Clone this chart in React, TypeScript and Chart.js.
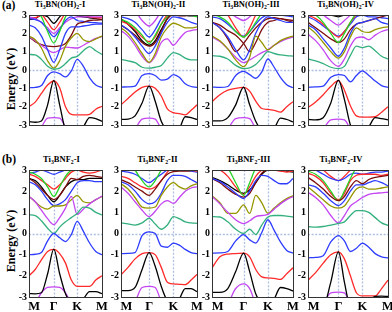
import React, { useEffect, useRef } from "react";
import { Chart, registerables } from "chart.js";
Chart.register(...registerables);

// ---- data ----
// k-path sample positions (M=0, Γ=1, K=2, M=3)
const kSamples = [0, 0.25, 0.5, 0.75, 1, 1.25, 1.5, 1.75, 2, 2.25, 2.5, 2.75, 3];
const kLabels = ["M", "Γ", "K", "M"];
const energyTicks = [-3, -2, -1, 0, 1, 2, 3];
const phases = ["I", "II", "III", "IV"];

// Ti3BN(OH)2-I
const ohI = [
  [-2.82, -2.85, -2.78, -1.9, -0.57, -1.9, -3.3, -3.6, -3.5, -3.1, -2.6, -2.65, -2.8],
  [-3.6, -3.5, -3.1, -2.63, -2.6, -2.63, -3.1, -3.5, -3.6, -3.6, -3.6, -3.6, -3.6],
  [-2.0, -1.75, -1.28, -0.82, -0.6, -0.97, -2.0, -2.42, -2.45, -2.45, -2.42, -2.14, -1.98],
  [-0.97, -0.95, -0.85, -0.3, -0.1, -0.2, -0.38, -0.05, 0.58, 0.2, -0.43, -0.82, -0.95],
  [0.85, 0.82, 0.58, 0.2, 0.04, 0.1, 0.35, 0.65, 0.74, 1.05, 1.28, 1.05, 0.85],
  [1.85, 1.65, 1.2, 0.5, 0.1, 0.5, 1.3, 1.75, 2.0, 1.65, 1.55, 1.7, 1.85],
  [2.45, 2.3, 1.85, 1.1, 0.42, 1.1, 2.0, 2.35, 2.35, 2.4, 2.45, 2.5, 2.5],
  [1.82, 1.6, 1.35, 1.1, 0.95, 1.1, 1.25, 1.22, 1.2, 1.35, 1.55, 1.72, 1.82],
  [1.8, 1.55, 1.38, 1.3, 1.28, 1.32, 1.45, 1.9, 2.5, 2.6, 2.7, 2.72, 2.75],
  [3.3, 3.2, 2.9, 2.1, 1.47, 2.1, 2.9, 3.3, 3.4, 3.4, 3.4, 3.4, 3.3],
  [2.8, 2.75, 2.6, 2.2, 1.82, 2.2, 2.7, 2.9, 2.7, 2.65, 2.6, 2.58, 2.55],
  [2.9, 2.8, 2.6, 2.3, 2.0, 2.3, 2.6, 2.8, 2.9, 2.9, 2.9, 2.9, 2.9],
  [2.85, 2.85, 3.0, 2.6, 2.2, 2.6, 3.1, 3.3, 3.2, 3.0, 2.9, 2.85, 2.85],
  [2.75, 2.8, 3.0, 2.9, 2.55, 2.9, 3.2, 3.3, 2.95, 2.9, 2.85, 2.8, 2.75],
  [3.5, 3.4, 3.3, 3.1, 2.98, 3.1, 3.3, 3.4, 3.5, 3.5, 3.5, 3.5, 3.5],
];
const ohIColors = ["k", "v", "r", "b", "t", "o", "b", "v", "m", "g", "b", "v", "r", "k", "p"];

// Ti3BN(OH)2-II
const ohII = [
  [-2.7, -2.68, -2.5, -1.8, -0.88, -1.7, -2.8, -3.3, -3.5, -3.2, -2.55, -2.6, -2.7],
  [-3.6, -3.5, -3.2, -2.68, -2.62, -2.68, -3.2, -3.5, -3.6, -3.6, -3.6, -3.6, -3.6],
  [-1.9, -1.55, -1.2, -0.95, -0.88, -1.0, -1.42, -2.12, -2.33, -2.38, -2.45, -2.2, -1.9],
  [-0.93, -0.92, -0.88, -0.3, -0.2, -0.3, -0.55, -0.5, -0.25, -0.4, -0.75, -0.9, -0.95],
  [0.58, 0.5, 0.4, 0.15, 0.1, 0.15, 0.25, 0.65, 0.95, 0.85, 0.65, 0.55, 0.55],
  [2.3, 2.0, 1.5, 0.9, 0.42, 0.9, 1.8, 2.3, 2.55, 2.45, 2.3, 2.3, 2.35],
  [2.15, 1.85, 1.35, 0.75, 0.4, 0.75, 1.5, 1.7, 1.35, 1.7, 2.05, 2.15, 2.2],
  [2.45, 2.2, 1.8, 1.3, 0.9, 1.3, 2.0, 2.6, 2.9, 2.85, 2.75, 2.6, 2.5],
  [2.45, 2.2, 1.9, 1.5, 1.3, 1.5, 2.1, 2.8, 3.0, 2.95, 2.95, 3.0, 3.0],
  [2.75, 2.6, 2.3, 1.9, 1.45, 1.9, 2.5, 2.9, 3.2, 3.3, 3.2, 3.0, 2.9],
  [2.65, 2.5, 2.2, 1.8, 1.55, 1.8, 2.5, 3.0, 3.2, 3.1, 3.0, 3.0, 3.0],
  [2.8, 2.5, 2.1, 1.6, 1.35, 1.6, 2.2, 2.8, 3.1, 3.1, 3.0, 2.95, 2.95],
  [2.9, 2.8, 2.6, 2.2, 1.8, 2.2, 2.8, 3.2, 3.3, 3.3, 3.3, 3.2, 3.1],
  [3.5, 3.4, 3.2, 2.7, 2.4, 2.7, 3.2, 3.5, 3.6, 3.6, 3.6, 3.6, 3.6],
];
const ohIIColors = ["k", "v", "r", "b", "t", "o", "v", "b", "m", "g", "r", "k", "b", "v"];

// Ti3BN(OH)2-III
const ohIII = [
  [-2.78, -2.78, -2.6, -1.9, -0.94, -1.9, -2.8, -3.3, -3.5, -3.2, -2.62, -2.7, -2.83],
  [-3.6, -3.5, -3.2, -2.65, -2.6, -2.65, -3.2, -3.5, -3.6, -3.6, -3.6, -3.6, -3.6],
  [-1.73, -1.35, -1.1, -1.0, -0.95, -1.15, -1.7, -2.1, -2.15, -2.2, -2.3, -2.0, -1.73],
  [-0.93, -0.95, -0.9, -0.3, -0.08, -0.25, -0.45, -0.1, 0.6, 0.15, -0.4, -0.8, -0.96],
  [0.78, 0.75, 0.6, 0.25, 0.08, 0.12, 0.3, 0.65, 1.0, 0.9, 0.82, 0.78, 0.76],
  [1.85, 1.6, 1.15, 0.55, 0.18, 0.7, 1.85, 1.5, 1.1, 1.35, 1.6, 1.75, 1.85],
  [1.8, 1.55, 1.15, 0.7, 0.4, 0.55, 0.75, 0.95, 1.1, 1.35, 1.55, 1.7, 1.8],
  [2.6, 2.3, 1.8, 1.1, 0.55, 1.1, 2.0, 2.6, 2.9, 2.8, 2.7, 2.6, 2.6],
  [2.6, 2.3, 1.7, 1.0, 1.45, 1.9, 2.3, 2.6, 2.8, 2.85, 2.8, 2.75, 2.7],
  [2.6, 2.45, 2.15, 1.9, 1.45, 1.0, 1.5, 2.2, 2.6, 2.7, 2.8, 2.7, 2.6],
  [3.0, 2.9, 2.6, 2.1, 1.8, 2.1, 2.6, 3.1, 3.4, 3.4, 3.4, 3.3, 3.2],
  [3.5, 3.4, 3.0, 2.3, 1.8, 2.3, 3.0, 3.5, 3.6, 3.6, 3.6, 3.6, 3.6],
  [2.9, 2.8, 2.5, 2.1, 1.85, 2.1, 2.5, 2.85, 3.0, 3.0, 3.0, 2.95, 2.9],
  [3.5, 3.4, 3.2, 2.9, 2.7, 2.9, 3.2, 3.4, 3.5, 3.5, 3.5, 3.5, 3.5],
];
const ohIIIColors = ["k", "v", "r", "b", "t", "o", "v", "b", "m", "m", "g", "r", "b", "v"];

// Ti3BN(OH)2-IV
const ohIV = [
  [-2.7, -2.72, -2.6, -1.8, -0.55, -1.6, -3.0, -3.5, -3.5, -3.1, -2.6, -2.65, -2.72],
  [-3.6, -3.5, -3.2, -2.72, -2.68, -2.72, -3.2, -3.5, -3.6, -3.6, -3.6, -3.6, -3.6],
  [-2.05, -1.75, -1.35, -0.9, -0.58, -1.1, -1.95, -2.5, -2.57, -2.57, -2.55, -2.3, -2.0],
  [-0.95, -0.92, -0.88, -0.4, -0.25, -0.3, -0.65, -0.3, -0.05, -0.3, -0.6, -0.85, -0.95],
  [0.6, 0.5, 0.35, 0.15, 0.08, 0.2, 0.8, 1.3, 1.22, 1.3, 1.05, 0.75, 0.6],
  [1.95, 1.6, 1.1, 0.5, 0.2, 0.6, 1.3, 1.75, 1.8, 1.65, 1.9, 2.1, 2.2],
  [2.35, 2.0, 1.5, 1.0, 0.65, 1.0, 1.8, 2.3, 2.1, 2.05, 2.2, 2.3, 2.35],
  [2.45, 2.2, 1.7, 1.2, 0.75, 1.2, 2.0, 2.5, 2.6, 2.7, 2.8, 2.6, 2.5],
  [3.2, 3.0, 2.6, 2.0, 1.5, 2.0, 2.6, 3.1, 3.3, 3.3, 3.3, 3.3, 3.2],
  [2.6, 2.3, 2.0, 1.7, 1.5, 1.7, 2.2, 2.5, 2.6, 2.7, 2.8, 2.9, 3.0],
  [3.0, 2.8, 2.5, 2.1, 1.8, 2.1, 2.6, 3.0, 3.2, 3.2, 3.1, 3.0, 3.0],
  [2.9, 2.7, 2.4, 2.1, 1.85, 2.1, 2.5, 2.9, 3.0, 2.9, 2.9, 2.85, 2.8],
  [3.5, 3.3, 3.0, 2.7, 2.45, 2.7, 3.0, 3.3, 3.5, 3.5, 3.5, 3.5, 3.5],
  [3.3, 3.2, 3.1, 3.0, 2.9, 3.0, 3.1, 3.2, 3.3, 3.3, 3.3, 3.3, 3.3],
];
const ohIVColors = ["k", "v", "r", "b", "t", "v", "o", "b", "g", "m", "r", "b", "v", "k"];

// Ti3BNF2-I
const fI = [
  [-2.84, -2.85, -2.8, -1.9, -0.74, -1.9, -2.85, -3.3, -3.5, -3.1, -2.75, -2.75, -2.84],
  [-3.6, -3.3, -2.8, -2.55, -2.52, -2.55, -2.8, -3.3, -3.6, -3.6, -3.6, -3.6, -3.6],
  [-2.0, -1.7, -1.25, -0.85, -0.75, -0.95, -1.4, -2.2, -2.5, -2.5, -2.5, -2.2, -2.0],
  [-1.0, -0.98, -0.9, -0.35, 0.0, -0.2, -0.38, -0.05, 0.57, 0.1, -0.45, -0.85, -1.0],
  [0.88, 0.85, 0.6, 0.25, 0.0, 0.3, 0.55, 0.75, 0.95, 1.25, 1.2, 1.0, 0.88],
  [1.75, 1.5, 1.1, 0.7, 0.42, 0.75, 1.2, 1.75, 0.9, 1.15, 1.4, 1.6, 1.77],
  [1.75, 1.5, 1.25, 1.15, 1.3, 1.3, 1.35, 1.6, 1.8, 1.5, 1.45, 1.6, 1.75],
  [2.45, 2.3, 2.0, 1.6, 1.32, 1.4, 1.6, 2.0, 2.4, 2.5, 2.5, 2.45, 2.45],
  [2.6, 2.4, 2.1, 1.8, 1.6, 1.8, 2.2, 2.6, 2.55, 2.7, 2.75, 2.7, 2.65],
  [2.9, 2.8, 2.6, 2.2, 1.75, 2.2, 2.7, 3.0, 3.1, 3.2, 3.2, 3.1, 3.0],
  [2.8, 2.7, 2.5, 2.3, 2.1, 2.3, 2.6, 2.9, 3.0, 2.9, 2.85, 2.9, 3.0],
  [2.6, 2.5, 2.2, 1.8, 1.5, 1.8, 2.2, 2.45, 2.55, 2.55, 2.6, 2.6, 2.6],
  [2.85, 2.9, 3.0, 2.9, 2.8, 2.9, 3.0, 3.1, 3.2, 3.2, 3.2, 3.1, 3.0],
];
const fIColors = ["k", "v", "r", "b", "t", "v", "o", "b", "m", "g", "r", "k", "b"];

// Ti3BNF2-II
const fII = [
  [-2.7, -2.7, -2.55, -1.7, -0.9, -1.55, -2.5, -3.2, -3.5, -3.1, -2.6, -2.6, -2.75],
  [-3.6, -3.5, -3.2, -2.55, -2.5, -2.55, -3.2, -3.5, -3.6, -3.6, -3.6, -3.6, -3.6],
  [-1.95, -1.6, -1.2, -0.95, -0.9, -1.0, -1.6, -2.3, -2.38, -2.4, -2.42, -2.2, -1.93],
  [-0.95, -0.94, -0.9, -0.1, 0.08, 0.0, -0.6, -0.65, -0.45, -0.55, -0.75, -0.9, -0.95],
  [0.5, 0.45, 0.4, 0.5, 0.72, 0.45, 0.2, 0.4, 0.8, 0.7, 0.55, 0.5, 0.48],
  [2.2, 1.9, 1.5, 1.1, 0.8, 1.05, 1.4, 1.55, 1.42, 1.7, 2.0, 2.15, 2.2],
  [2.35, 2.1, 1.7, 1.25, 1.2, 1.25, 1.8, 2.2, 2.4, 2.2, 2.1, 2.25, 2.35],
  [2.45, 2.3, 2.0, 1.6, 1.4, 1.5, 1.9, 2.5, 2.75, 2.75, 2.7, 2.55, 2.4],
  [2.55, 2.4, 2.2, 2.0, 1.8, 2.1, 2.5, 2.8, 2.92, 2.95, 2.95, 2.97, 3.0],
  [3.5, 3.4, 3.0, 2.5, 2.2, 2.5, 3.0, 3.4, 3.6, 3.6, 3.6, 3.6, 3.6],
  [2.7, 2.6, 2.4, 2.2, 2.1, 2.2, 2.5, 2.9, 3.1, 3.1, 3.1, 3.0, 2.95],
  [2.95, 2.9, 2.8, 2.6, 2.4, 2.6, 2.8, 3.0, 3.1, 3.1, 3.0, 2.95, 2.9],
];
const fIIColors = ["k", "v", "r", "b", "t", "v", "o", "b", "m", "g", "r", "b"];

// Ti3BNF2-III
const fIII = [
  [-2.78, -2.78, -2.6, -1.8, -0.93, -1.8, -2.85, -3.3, -3.5, -3.1, -2.55, -2.6, -2.72],
  [-3.6, -3.5, -3.3, -2.6, -2.38, -2.6, -3.3, -3.5, -3.6, -3.6, -3.6, -3.6, -3.6],
  [-1.63, -1.1, -0.97, -0.95, -0.93, -1.1, -1.7, -2.05, -2.1, -2.12, -2.17, -1.9, -1.62],
  [-0.93, -0.92, -0.85, -0.35, -0.05, -0.3, -0.45, 0.05, 0.65, 0.15, -0.4, -0.8, -0.93],
  [0.8, 0.78, 0.55, 0.2, 0.0, 0.2, -0.05, 0.4, 0.78, 0.85, 0.85, 0.82, 0.78],
  [1.75, 1.4, 1.0, 0.65, 0.47, 0.6, 0.8, 0.85, 0.9, 1.15, 1.4, 1.6, 1.75],
  [1.78, 1.45, 0.95, 0.95, 1.35, 0.95, 1.8, 1.45, 0.96, 1.2, 1.45, 1.65, 1.78],
  [2.6, 2.45, 2.2, 1.9, 1.65, 2.0, 2.5, 2.75, 2.7, 2.5, 2.35, 2.35, 2.6],
  [2.6, 2.4, 2.1, 1.85, 1.72, 1.9, 2.4, 2.85, 3.0, 3.0, 3.0, 3.0, 3.0],
  [3.5, 3.4, 3.1, 2.4, 1.8, 2.4, 3.1, 3.4, 3.6, 3.6, 3.6, 3.6, 3.6],
  [3.1, 3.0, 2.7, 2.2, 1.85, 2.2, 2.7, 3.0, 3.1, 3.0, 2.95, 2.9, 2.95],
  [2.65, 2.5, 2.3, 2.05, 1.9, 2.05, 2.4, 2.8, 3.0, 3.0, 3.0, 2.95, 2.9],
];
const fIIIColors = ["k", "v", "r", "b", "t", "v", "o", "b", "m", "g", "r", "k"];

// Ti3BNF2-IV
const fIV = [
  [-3.6, -3.6, -3.5, -2.3, -0.87, -2.3, -3.5, -3.6, -3.6, -3.2, -2.97, -2.96, -2.97],
  [-3.6, -3.5, -3.3, -2.8, -2.77, -2.8, -3.3, -3.5, -3.6, -3.6, -3.6, -3.6, -3.6],
  [-2.2, -1.85, -1.4, -1.0, -0.87, -1.2, -2.0, -2.8, -2.95, -2.95, -2.95, -2.6, -2.2],
  [-1.15, -1.13, -1.05, -0.4, -0.1, -0.35, -0.85, -0.7, -0.45, -0.65, -0.95, -1.1, -1.15],
  [0.33, 0.3, 0.33, 0.4, 0.48, 0.55, 0.85, 1.08, 1.08, 1.0, 0.75, 0.5, 0.38],
  [1.95, 1.7, 1.35, 0.85, 0.5, 0.85, 1.3, 1.5, 1.7, 1.85, 1.9, 1.92, 1.95],
  [2.2, 1.9, 1.6, 1.3, 1.2, 1.3, 1.7, 2.1, 2.2, 2.1, 2.1, 2.15, 2.2],
  [2.3, 2.2, 1.9, 1.55, 1.32, 1.55, 2.0, 2.3, 2.3, 2.4, 2.5, 2.4, 2.25],
  [2.65, 2.4, 2.1, 1.75, 1.55, 1.75, 2.2, 2.5, 2.35, 2.55, 2.65, 2.7, 2.75],
  [2.95, 2.8, 2.5, 2.0, 1.55, 2.0, 2.6, 3.1, 3.3, 3.4, 3.4, 3.4, 3.3],
  [2.85, 2.7, 2.4, 1.9, 1.6, 1.9, 2.5, 2.75, 2.8, 2.8, 2.8, 2.75, 2.8],
  [3.2, 3.0, 2.8, 2.6, 2.5, 2.6, 2.8, 2.85, 2.8, 2.85, 2.9, 2.9, 2.95],
  [3.3, 3.2, 3.0, 2.7, 2.5, 2.7, 3.0, 3.2, 3.3, 3.3, 3.3, 3.3, 3.3],
];
const fIVColors = ["k", "v", "r", "b", "t", "v", "o", "b", "m", "g", "r", "b", "r"];

// ---- styles / layout ----
const PALETTE: Record<string, string> = {
  k: "#000000",
  r: "#ff2a2a",
  b: "#2e3cff",
  t: "#33b07e",
  v: "#c445f2",
  o: "#969600",
  g: "#26d426",
  m: "#7d0c0c",
  p: "#ff3fd0",
};
const SERIF = "'Liberation Serif', 'Times New Roman', serif";
const COL_LEFT = [29, 121, 212, 308];
const COL_WIDTH = [73, 76, 81, 80];
const COL_GK = [
  [0.34, 0.66],
  [0.37, 0.69],
  [0.39, 0.69],
  [0.38, 0.68],
];
const ROW_TOP = [15, 170];
const ROW_HEIGHT = [128, 127];
const YW = 22; // y axis width
const PAD = 8;
const XH = 18; // x axis label height (bottom row)

function toAxis(s: number, g: number, k: number) {
  if (s <= 1) return s * g;
  if (s <= 2) return g + (s - 1) * (k - g);
  return k + (s - 2) * (1 - k);
}

const guidePlugin = {
  id: "bandGuides",
  beforeDatasetsDraw(chart: any) {
    const { ctx, chartArea: a, scales } = chart;
    const gk = chart.options.plugins.bandGuides.gk;
    ctx.save();
    ctx.strokeStyle = "#aebfe2";
    ctx.lineWidth = 1.3;
    ctx.setLineDash([2, 1.6]);
    ctx.beginPath();
    const y0 = Math.round(scales.y.getPixelForValue(0)) + 0.5;
    ctx.moveTo(a.left, y0);
    ctx.lineTo(a.right, y0);
    for (const v of gk) {
      const x = Math.round(scales.x.getPixelForValue(v)) + 0.5;
      ctx.moveTo(x, a.top);
      ctx.lineTo(x, a.bottom);
    }
    ctx.stroke();
    ctx.restore();
  },
  afterDatasetsDraw(chart: any) {
    const { ctx, chartArea: a } = chart;
    ctx.save();
    ctx.strokeStyle = "#333";
    ctx.lineWidth = 1;
    ctx.strokeRect(a.left + 0.5, a.top + 0.5, a.right - a.left, a.bottom - a.top);
    ctx.restore();
  },
};

type PanelProps = { bands: number[][]; colors: string[]; col: number; row: number };

function Panel({ bands, colors, col, row }: PanelProps) {
  const ref = useRef<HTMLCanvasElement | null>(null);
  const L = COL_LEFT[col];
  const W = COL_WIDTH[col];
  const T = ROW_TOP[row];
  const H = ROW_HEIGHT[row];
  const showX = row === 1;
  const cw = W + YW + PAD;
  const ch = H + PAD + (showX ? XH : PAD);
  const [g, k] = COL_GK[col];

  useEffect(() => {
    if (!ref.current) return;
    const labelPos = [0.07, g, k, 1];
    const chart = new Chart(ref.current, {
      type: "line",
      data: {
        datasets: bands.map((vals, i) => ({
          data: vals.map((y, j) => ({ x: toAxis(kSamples[j], g, k), y })),
          borderColor: PALETTE[colors[i]],
          borderWidth: 1.3,
          pointRadius: 0,
          fill: false,
          cubicInterpolationMode: "monotone",
        })),
      },
      options: {
        responsive: false,
        animation: false,
        devicePixelRatio: 1,
        events: [],
        layout: { padding: { left: 0, top: PAD, right: PAD, bottom: showX ? 0 : PAD } },
        plugins: {
          legend: { display: false },
          tooltip: { enabled: false },
          bandGuides: { gk: [g, k] },
        } as any,
        scales: {
          x: {
            type: "linear",
            min: 0,
            max: 1,
            display: showX,
            afterBuildTicks: (s: any) => {
              s.ticks = labelPos.map((v) => ({ value: v }));
            },
            afterFit: (s: any) => {
              s.height = XH;
            },
            ticks: {
              autoSkip: false,
              maxRotation: 0,
              padding: 2,
              color: "#000",
              font: { family: SERIF, size: 12.5, weight: "bold" },
              callback: (_v: any, i: number) => kLabels[i],
            },
            grid: { display: false, drawTicks: false },
            border: { display: false },
          },
          y: {
            min: -3,
            max: 3,
            afterBuildTicks: (s: any) => {
              s.ticks = energyTicks.map((v) => ({ value: v }));
            },
            afterFit: (s: any) => {
              s.width = YW;
            },
            ticks: {
              padding: 2,
              color: "#000",
              font: { family: SERIF, size: 10, weight: "bold" },
            },
            grid: { display: false, drawTicks: false },
            border: { display: false },
          },
        },
      },
      plugins: [guidePlugin],
    } as any);
    return () => chart.destroy();
  }, []);

  return (
    <canvas
      ref={ref}
      width={cw}
      height={ch}
      style={{ position: "absolute", left: L - YW, top: T - PAD, width: cw, height: ch }}
    />
  );
}

const subStyle: React.CSSProperties = {
  fontSize: "0.68em",
  position: "relative",
  top: "0.3em",
  verticalAlign: "baseline",
  lineHeight: 0,
};

function Title({ kind, phase, cx, top }: { kind: string; phase: string; cx: number; top: number }) {
  return (
    <div
      style={{
        position: "absolute",
        left: cx,
        top,
        transform: "translateX(-50%)",
        whiteSpace: "nowrap",
        fontFamily: SERIF,
        fontWeight: "bold",
        fontSize: 8.5,
        lineHeight: "9px",
        color: "#000",
      }}
    >
      Ti<sub style={subStyle}>3</sub>
      {kind === "OH" ? "BN(OH)" : "BNF"}
      <sub style={subStyle}>2</sub>-{phase}
    </div>
  );
}

function EnergyLabel({ cy }: { cy: number }) {
  return (
    <div
      style={{
        position: "absolute",
        left: 11,
        top: cy,
        transform: "translate(-50%, -50%) rotate(-90deg)",
        whiteSpace: "nowrap",
        fontFamily: SERIF,
        fontWeight: "bold",
        fontSize: 12,
        lineHeight: "12px",
        color: "#000",
      }}
    >
      Energy (eV)
    </div>
  );
}

const topPanels = [
  { bands: ohI, colors: ohIColors },
  { bands: ohII, colors: ohIIColors },
  { bands: ohIII, colors: ohIIIColors },
  { bands: ohIV, colors: ohIVColors },
];
const bottomPanels = [
  { bands: fI, colors: fIColors },
  { bands: fII, colors: fIIColors },
  { bands: fIII, colors: fIIIColors },
  { bands: fIV, colors: fIVColors },
];
const TITLE_CX_TOP = [60, 158.5, 251, 345.5];
const TITLE_CX_BOTTOM = [61.5, 157.5, 248.5, 341];

export default function App() {
  return (
    <div
      style={{
        position: "absolute",
        left: 0,
        top: 0,
        width: 392,
        height: 312,
        background: "#fff",
        overflow: "hidden",
      }}
    >
      <div style={{ position: "absolute", left: 2, top: 0, fontFamily: SERIF, fontWeight: "bold", fontSize: 11.5, lineHeight: "11px" }}>
        (a)
      </div>
      <div style={{ position: "absolute", left: 2, top: 154, fontFamily: SERIF, fontWeight: "bold", fontSize: 11.5, lineHeight: "11px" }}>
        (b)
      </div>
      {phases.map((p, i) => (
        <Title key={"t" + i} kind="OH" phase={p} cx={TITLE_CX_TOP[i]} top={0} />
      ))}
      {phases.map((p, i) => (
        <Title key={"b" + i} kind="F" phase={p} cx={TITLE_CX_BOTTOM[i]} top={155} />
      ))}
      <EnergyLabel cy={79} />
      <EnergyLabel cy={241} />
      {topPanels.map((p, i) => (
        <Panel key={"pt" + i} bands={p.bands} colors={p.colors} col={i} row={0} />
      ))}
      {bottomPanels.map((p, i) => (
        <Panel key={"pb" + i} bands={p.bands} colors={p.colors} col={i} row={1} />
      ))}
    </div>
  );
}
